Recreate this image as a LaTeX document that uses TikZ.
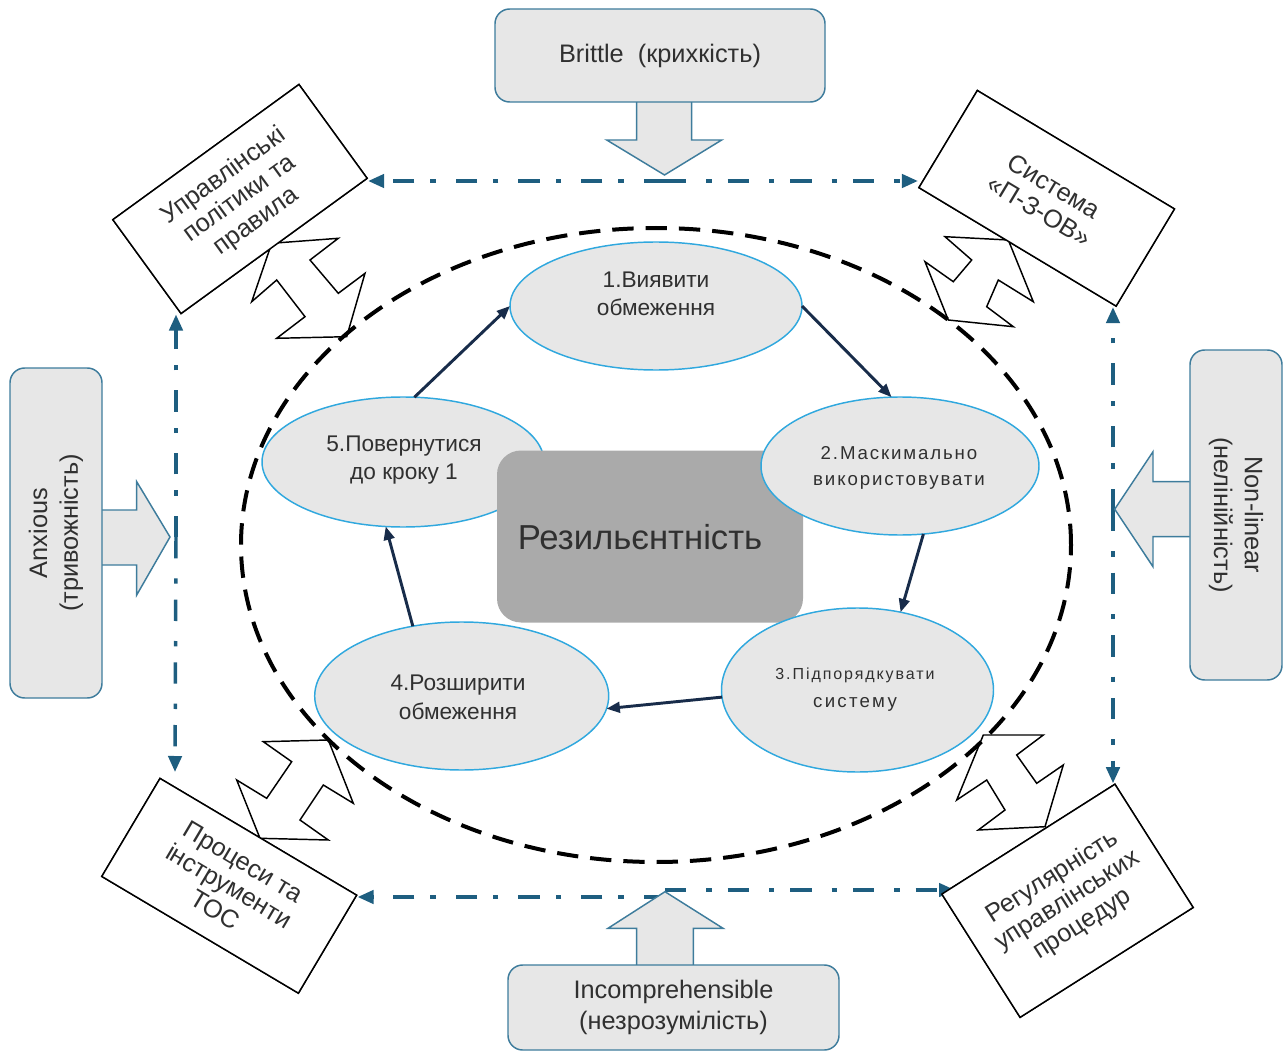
\documentclass[tikz,border=0pt]{standalone}
\usepackage{fontspec}
\setmainfont{Liberation Sans}
\usetikzlibrary{shapes.geometric,arrows.meta}
\definecolor{boxfill}{RGB}{231,231,231}
\definecolor{boxedge}{RGB}{62,124,156}
\definecolor{linkcol}{RGB}{30,94,128}
\definecolor{ellfill}{RGB}{231,231,231}
\definecolor{ellblue}{RGB}{48,168,222}
\definecolor{flowcol}{RGB}{24,44,74}
\definecolor{txt}{RGB}{48,48,48}
\definecolor{coregray}{RGB}{170,170,170}
\begin{document}
\begin{tikzpicture}[x=0.75pt,y=-0.75pt,
  outerbox/.style={draw=boxedge, fill=boxfill, line width=1.1pt, rounded corners=11pt,
    inner sep=0pt, text=txt, align=center, font=\fontsize{19}{23}\selectfont},
  blockarrow/.style={draw=boxedge, fill=boxfill, line width=1.1pt, line join=miter},
  rotbox/.style={draw=black, fill=white, line width=1.1pt, inner sep=0pt, text=txt,
    align=center, font=\fontsize{19}{21}\selectfont},
  dblarrow/.style={draw=black, fill=white, line width=1.1pt, line join=miter},
  link/.style={draw=linkcol, line width=2.6pt, dash pattern=on 16pt off 15pt on 4pt off 12pt,
    -{Triangle[length=12pt,width=10pt]}},
  ell/.style={ellipse, draw=ellblue, fill=ellfill, line width=1.1pt, inner sep=0pt, outer sep=0pt},
  elltext/.style={text=txt, align=center, inner sep=0pt, font=\fontsize{17}{21}\selectfont},
  flow/.style={draw=flowcol, line width=2.2pt, -{Triangle[length=10pt,width=8pt]}},
]
\useasboundingbox (0,0) rectangle (1283,1052);

% ---------- dash-dot connectors ----------
\coordinate (tm) at (665,181);
\coordinate (lm) at (176,537);
\coordinate (rm) at (1113,510);
\coordinate (bmL) at (665,897);
\coordinate (bmR) at (665,890);
\coordinate (blhit) at (175,772);
\coordinate (brhit) at (955,890);

% ---------- rotated boxes (defined first for anchors, drawn later on top) ----------
\path node[rotbox, rotate=36, minimum width=172.5pt, minimum height=87pt] (tl) at (240,199) {};
\path node[rotbox, rotate=-31, minimum width=172.5pt, minimum height=85pt] (tr) at (1046.7,198.3) {};
\path node[rotbox, rotate=-30.7, minimum width=171.5pt, minimum height=85.5pt] (bl) at (229.2,885.8) {};
\path node[rotbox, rotate=32.4, minimum width=153.75pt, minimum height=109.5pt] (br) at (1067.5,900.8) {};

\draw[link] (tm) -- (tm -| tl.south east);
\draw[link] (tm) -- (tm -| tr.south west);
\draw[link] (lm) -- (lm |- tl.south west);
\draw[link] (lm) -- (blhit);
\draw[link] (rm) -- (rm |- tr.south east);
\draw[link] (rm) -- (rm |- br.north east);
\draw[link] (bmL) -- (bmL -| bl.north east);
\draw[link] (bmR) -- (brhit);

% ---------- block arrows of outer boxes ----------
\filldraw[blockarrow] (636.7,102) -- (636.7,140) -- (606.7,140) -- (664.5,175) -- (721.7,140) -- (691.7,140) -- (691.7,102);
\filldraw[blockarrow] (636.7,965) -- (636.7,928.3) -- (608,928.3) -- (665,891.7) -- (723,928.3) -- (693.3,928.3) -- (693.3,965);
\filldraw[blockarrow] (101.7,510) -- (136.7,510) -- (136.7,481.7) -- (170,537) -- (136.7,595) -- (136.7,565) -- (101.7,565);
\filldraw[blockarrow] (1189.7,481.7) -- (1153,481.7) -- (1153,451.7) -- (1114.7,509.2) -- (1153,566.7) -- (1153,536.7) -- (1189.7,536.7);

% ---------- outer rounded boxes ----------
\node[outerbox, minimum width=247.5pt, minimum height=69.75pt] (brittle) at (660,55.5) {Brittle\ \ (крихкість)};
\node[outerbox, minimum width=248.25pt, minimum height=63.75pt] (incomp) at (673.5,1007.5) {Incomprehensible\\(незрозумілість)};
\node[outerbox, rotate=90, minimum width=247.5pt, minimum height=69pt] (anx) at (56,533) {Anxious\\(тривожність)};
\node[outerbox, rotate=-90, minimum width=247.5pt, minimum height=69pt] (nonlin) at (1236,515) {Non-linear\\(нелінійність)};

% ---------- double arrows ----------
\filldraw[dblarrow] (271.7,243.3) -- (338.3,238.3) -- (310,260) -- (338.3,293.3) -- (365,273.3) -- (346.7,336.7) -- (276.7,338.3) -- (305,316.7) -- (276.7,280) -- (251.7,301.7) -- cycle;
\filldraw[dblarrow] (945,236.7) -- (1008.3,240) -- (1033.3,301.7) -- (998.3,280) -- (986.7,306.7) -- (1013.3,326.7) -- (948.3,320) -- (925,261.7) -- (953.3,281.7) -- (971.7,260) -- cycle;
\filldraw[dblarrow] (263.3,741.7) -- (328.3,740) -- (353.3,803.3) -- (323.3,785) -- (300,820) -- (328.3,840) -- (260,838.3) -- (236.7,780) -- (266.7,798.3) -- (291.7,761.7) -- cycle;
\filldraw[dblarrow] (983.3,735) -- (1043.3,735) -- (1016.7,755) -- (1036.7,783.3) -- (1063.3,765) -- (1045,826.7) -- (978.3,830) -- (1005,810) -- (986.7,780) -- (956.7,800) -- cycle;

% ---------- rotated boxes drawn ----------
\node[rotbox, rotate=36, minimum width=172.5pt, minimum height=87pt] (tlb) at (240,199) {Управлінські\\політики та\\правила};
\node[rotbox, rotate=-31, minimum width=172.5pt, minimum height=85pt] (trb) at (1046.7,198.3) {Система\\«П-З-ОВ»};
\node[rotbox, rotate=-30.7, minimum width=171.5pt, minimum height=85.5pt] (blb) at (229.2,885.8) {Процеси та\\інструменти\\ТОС};
\node[rotbox, rotate=32.4, minimum width=153.75pt, minimum height=109.5pt] (brb) at (1067.5,900.8) {Регулярність\\управлінських\\процедур};

% ---------- inner cycle ----------
\node[ell, minimum width=211.5pt, minimum height=97.5pt] (e5) at (403,462) {};
\node[fill=coregray, rounded corners=18pt, minimum width=229.5pt, minimum height=129pt, inner sep=0pt] (core) at (650,536.5) {};
\node[text=txt, inner sep=0pt, font=\fontsize{26}{30}\selectfont] (coret) at (640,537) {Резильєнтність};
\node[ell, minimum width=219pt, minimum height=96pt] (e1) at (656,306) {};
\node[ell, minimum width=208.5pt, minimum height=103.5pt] (e2) at (900,466) {};
\node[ell, minimum width=204pt, minimum height=123pt] (e3) at (857.5,690) {};
\node[ell, minimum width=220.5pt, minimum height=111pt] (e4) at (461.7,696) {};

\node[elltext] (e1t) at (656,294) {1.Виявити\\обмеження};
\node[elltext, font=\fontsize{14}{20}\selectfont\addfontfeature{LetterSpace=10}] (e2t) at (899,468) {2.Маскимально\\використовувати};
\node[elltext, font=\fontsize{14}{21}\selectfont\addfontfeature{LetterSpace=12}] (e3t) at (855,690) {{\fontsize{12}{21}\selectfont 3.Підпорядкувати}\\систему};
\node[elltext, font=\fontsize{17}{22}\selectfont] (e4t) at (458,697) {4.Розширити\\обмеження};
\node[elltext] (e5t) at (404,460) {5.Повернутися\\до кроку 1};

\draw[flow] (e5.80) -- (e1.west);
\draw[flow] (e1.east) -- (e2.97);
\draw[flow] (e2.-71) -- (e3.61);
\draw[flow] (e3.183) -- (e4.-5);
\draw[flow] (e4.125) -- (e5.-105);

% ---------- big dashed ellipse ----------
\node[ellipse, draw=black, line width=3pt, dash pattern=on 16pt off 9pt, minimum width=622.5pt, minimum height=475.5pt, inner sep=0pt] (big) at (656,545) {};
\end{tikzpicture}
\end{document}
